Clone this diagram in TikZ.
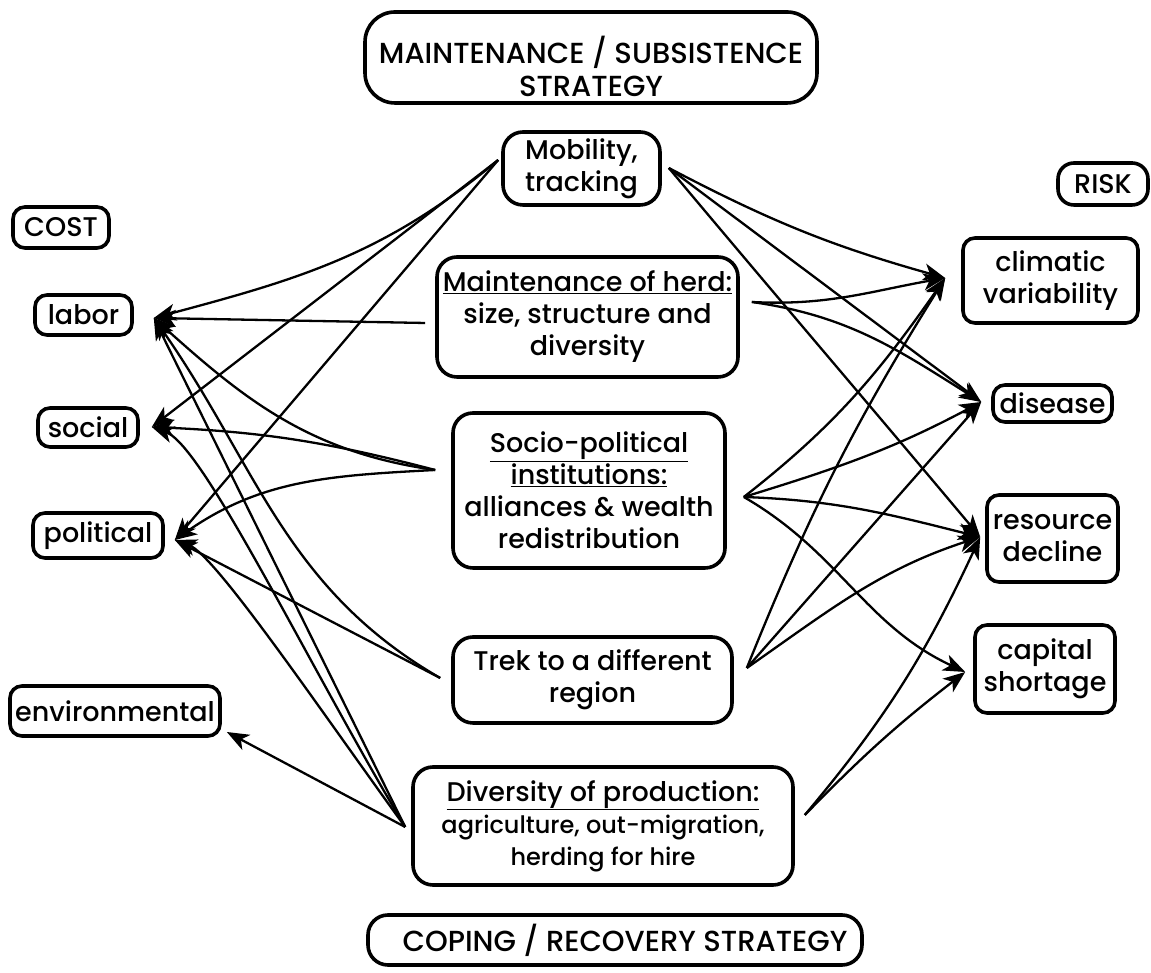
\documentclass[tikz,border=0pt]{standalone}
\usepackage{fontspec}
\setmainfont{Poppins}[UprightFont={* Medium}]
\usetikzlibrary{arrows.meta}
\tikzset{
  box/.style={draw,line width=3.6pt,rounded corners=20pt,align=center,inner sep=0pt,
    font=\fontsize{27}{32}\selectfont},
  tag/.style={box,rounded corners=12pt},
  link/.style={line width=2.3pt,-{Stealth[length=22pt,width=17pt,inset=6pt]}}
}
\begin{document}
\begin{tikzpicture}[x=1pt,y=1pt]
\useasboundingbox (0,0) rectangle (1151,973);

% strategies
\node[box,rounded corners=30pt,minimum width=452,minimum height=91,font=\fontsize{29}{33}\selectfont] (maint) at (591,915.5) {\rule{0pt}{46pt}MAINTENANCE / SUBSISTENCE\\STRATEGY};
\node[box,minimum width=494,minimum height=50,font=\fontsize{29}{32}\selectfont] (coping) at (615,33) {\hspace{20pt}COPING / RECOVERY STRATEGY};

\node[box,minimum width=157,minimum height=73] (mobility) at (581.5,804.5) {Mobility,\\tracking};
\node[box,minimum width=301,minimum height=120] (herd) at (587.5,656) {\underline{Maintenance of herd:}\\size, structure and\\diversity};
\node[box,minimum width=272,minimum height=155] (socio) at (589,482.5) {\underline{Socio-political}\\\underline{institutions:}\\alliances \& wealth\\redistribution};
\node[box,minimum width=279,minimum height=86] (trek) at (592.5,293) {Trek to a different\\region};
\node[box,minimum width=380,minimum height=118] (divers) at (603,147) {\underline{Diversity of production:}\\{\fontsize{24}{30}\selectfont agriculture, out-migration,}\\{\fontsize{24}{30}\selectfont herding for hire}};

% costs
\node[tag,minimum width=96,minimum height=41] (cost) at (61,745.5) {COST};
\node[tag,minimum width=97,minimum height=40] (labor) at (83.5,658) {labor};
\node[tag,minimum width=100,minimum height=39] (social) at (88,545.5) {social};
\node[tag,minimum width=130,minimum height=45] (political) at (98,437.5) {political};
\node[tag,minimum width=210,minimum height=50] (environ) at (115,262) {environmental};

% risks
\node[tag,rounded corners=16pt,minimum width=90,minimum height=42] (risk) at (1103,789) {RISK};
\node[tag,minimum width=175,minimum height=85] (climatic) at (1050.5,692.5) {climatic\\variability};
\node[tag,minimum width=119,minimum height=37] (disease) at (1052.5,569.5) {disease};
\node[tag,minimum width=131,minimum height=87] (resource) at (1052.5,434.5) {resource\\decline};
\node[tag,minimum width=140,minimum height=88] (capital) at (1045,304) {capital\\shortage};

% ports
\coordinate (mob-l) at ([shift={(-3,8.5)}]mobility.west);
\coordinate (mob-r) at ([shift={(7,0.5)}]mobility.east);
\coordinate (herd-l) at ([shift={(-10,-6)}]herd.west);
\coordinate (herd-r) at ([shift={(12,15)}]herd.east);
\coordinate (soc-l) at ([shift={(-16,20.5)}]socio.west);
\coordinate (soc-r) at ([shift={(17,-6.5)}]socio.east);
\coordinate (trek-l) at ([shift={(-11,2)}]trek.west);
\coordinate (trek-r) at ([shift={(13,12)}]trek.east);
\coordinate (div-l) at ([shift={(-6,-1)}]divers.west);
\coordinate (div-r) at ([shift={(10,11)}]divers.east);

\coordinate (labor-in) at ([shift={(20,-3)}]labor.east);
\coordinate (social-in) at ([shift={(12,0.5)}]social.east);
\coordinate (polit-in) at ([shift={(10,-4.5)}]political.east);
\coordinate (env-in) at ([shift={(5,-21)}]environ.east);
\coordinate (clim-in) at ([shift={(-16,2.5)}]climatic.west);
\coordinate (dis-in) at ([shift={(-10,1.5)}]disease.west);
\coordinate (res-in) at ([shift={(-5,1.5)}]resource.west);
\coordinate (cap-in) at ([shift={(-8,-3)}]capital.west);

% to costs
\draw[link] (mob-l) to[out=220,in=15] (labor-in);
\draw[link] (mob-l) -- (social-in);
\draw[link] (mob-l) -- (polit-in);
\draw[link] (herd-l) -- (labor-in);
\draw[link] (soc-l) to[out=172,in=-42] (labor-in);
\draw[link] (soc-l) to[bend right=6] (social-in);
\draw[link] (soc-l) to[out=183,in=35] (polit-in);
\draw[link] (trek-l) to[out=150,in=-55] (labor-in);
\draw[link] (trek-l) -- (polit-in);
\draw[link] (div-l) -- (labor-in);
\draw[link] (div-l) to[out=121,in=-20,in looseness=0.3] (social-in);
\draw[link] (div-l) to[out=126,in=-20,in looseness=0.3] (polit-in);
\draw[link] (div-l) -- (env-in);

% to risks
\draw[link] (mob-r) to[bend right=6] (clim-in);
\draw[link] (mob-r) -- (dis-in);
\draw[link] (mob-r) to[out=-50,in=130] (res-in);
\draw[link] (herd-r) to[out=-3,in=190] (clim-in);
\draw[link] (herd-r) to[out=-8,in=148] (dis-in);
\draw[link] (soc-r) to[out=38,in=235] (clim-in);
\draw[link] (soc-r) to[out=17,in=208] (dis-in);
\draw[link] (soc-r) to[out=-2,in=166] (res-in);
\draw[link] (soc-r) to[out=-30,in=155] (cap-in);
\draw[link] (trek-r) to[bend left=5] (clim-in);
\draw[link] (trek-r) -- (dis-in);
\draw[link] (trek-r) to[out=35,in=198] (res-in);
\draw[link] (div-r) to[out=50,in=245] (res-in);
\draw[link] (div-r) to[bend left=4] (cap-in);
\end{tikzpicture}
\end{document}
